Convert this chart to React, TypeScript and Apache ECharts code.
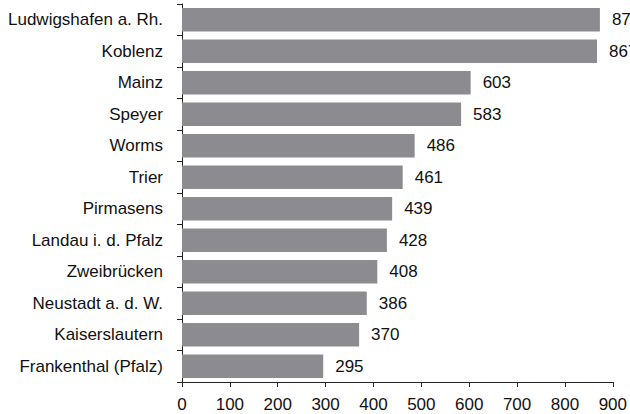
import React, { useEffect, useRef } from "react";
import * as echarts from "echarts";

const cities = [
  "Ludwigshafen a. Rh.",
  "Koblenz",
  "Mainz",
  "Speyer",
  "Worms",
  "Trier",
  "Pirmasens",
  "Landau i. d. Pfalz",
  "Zweibrücken",
  "Neustadt a. d. W.",
  "Kaiserslautern",
  "Frankenthal (Pfalz)",
];
const values = [873, 867, 603, 583, 486, 461, 439, 428, 408, 386, 370, 295];
const xTicks = [0, 100, 200, 300, 400, 500, 600, 700, 800, 900];

export default function App() {
  const ref = useRef<HTMLDivElement>(null);
  useEffect(() => {
    if (!ref.current) return;
    const chart = echarts.init(ref.current, undefined, { renderer: "svg" });
    const font = "'Liberation Sans', Arial, Helvetica, sans-serif";
    chart.setOption({
      animation: false,
      grid: { left: 182, right: 17, top: 4, bottom: 32, containLabel: false },
      xAxis: {
        type: "value",
        min: xTicks[0],
        max: xTicks[xTicks.length - 1],
        interval: 100,
        splitLine: { show: false },
        axisLine: { show: true, lineStyle: { color: "#222", width: 1 } },
        axisTick: { show: true, length: 5, lineStyle: { color: "#222" } },
        axisLabel: { color: "#111", fontSize: 17, fontFamily: font, margin: 14 },
      },
      yAxis: {
        type: "category",
        data: cities,
        inverse: true,
        axisLine: { show: true, lineStyle: { color: "#222", width: 1 } },
        axisTick: { show: true, length: 5, lineStyle: { color: "#222" } },
        axisLabel: { color: "#111", fontSize: 17, fontFamily: font, margin: 19 },
      },
      series: [
        {
          type: "bar",
          data: values,
          barCategoryGap: "25%",
          itemStyle: { color: "#8c8c90" },
          label: {
            show: true,
            position: "right",
            distance: 12,
            color: "#111",
            fontSize: 17,
            fontFamily: font,
          },
        },
      ],
    });
    return () => chart.dispose();
  }, []);
  return <div ref={ref} style={{ width: 630, height: 414, position: "absolute", left: 0, top: 0 }} />;
}
